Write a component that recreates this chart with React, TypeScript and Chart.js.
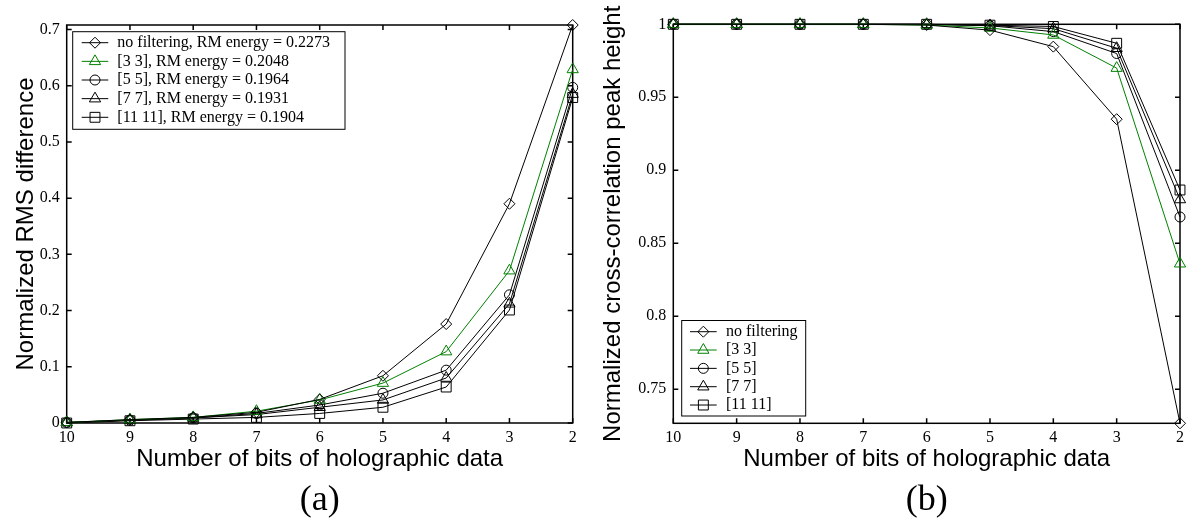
import React, { useEffect, useRef } from 'react';
import { Chart, registerables } from 'chart.js';

Chart.register(...registerables);

// ---------- data ----------
const BITS = [10, 9, 8, 7, 6, 5, 4, 3, 2];
const X_TICKS = [10, 9, 8, 7, 6, 5, 4, 3, 2];

const NAMES_A = [
  'no filtering, RM energy = 0.2273',
  '[3 3], RM energy = 0.2048',
  '[5 5], RM energy = 0.1964',
  '[7 7], RM energy = 0.1931',
  '[11 11], RM energy = 0.1904',
];
const NAMES_B = ['no filtering', '[3 3]', '[5 5]', '[7 7]', '[11 11]'];

const RMS_NONE = [0.001, 0.006, 0.010, 0.019, 0.042, 0.084, 0.176, 0.390, 0.708];
const RMS_33 = [0.001, 0.006, 0.010, 0.021, 0.041, 0.071, 0.127, 0.271, 0.629];
const RMS_55 = [0.001, 0.005, 0.009, 0.017, 0.032, 0.053, 0.094, 0.228, 0.597];
const RMS_77 = [0.001, 0.005, 0.009, 0.015, 0.028, 0.041, 0.080, 0.212, 0.585];
const RMS_1111 = [0.000, 0.004, 0.007, 0.010, 0.017, 0.028, 0.064, 0.201, 0.579];

const CC_NONE = [1.0, 1.0, 1.0, 1.0, 0.9995, 0.996, 0.9847, 0.935, 0.7267];
const CC_33 = [1.0, 1.0, 1.0, 1.0, 0.9995, 0.9975, 0.9927, 0.970, 0.836];
const CC_55 = [1.0, 1.0, 1.0, 1.0, 1.0, 0.999, 0.995, 0.980, 0.868];
const CC_77 = [1.0, 1.0, 1.0, 1.0, 1.0, 0.9992, 0.997, 0.9836, 0.880];
const CC_1111 = [1.0, 1.0, 1.0, 1.0, 1.0, 0.9994, 0.9985, 0.987, 0.8865];

const Y_TICKS_A = [0, 0.1, 0.2, 0.3, 0.4, 0.5, 0.6, 0.7];
const Y_TICKS_B = [0.75, 0.8, 0.85, 0.9, 0.95, 1];

// ---------- styles ----------
const COLORS = ['#000000', '#008000', '#000000', '#000000', '#000000'];
const SHAPES = ['rectRot', 'triangle', 'circle', 'triangle', 'rect'];
const RADII = [5.5, 6.5, 5, 6.5, 7];
const SERIF = '"Liberation Serif", "Times New Roman", serif';
const SANS = '"Liberation Sans", Arial, sans-serif';

function drawMarker(ctx: CanvasRenderingContext2D, shape: string, x: number, y: number, r: number) {
  ctx.beginPath();
  if (shape === 'circle') {
    ctx.arc(x, y, r, 0, Math.PI * 2);
  } else if (shape === 'rect') {
    const s = Math.SQRT1_2 * r;
    ctx.rect(x - s, y - s, 2 * s, 2 * s);
  } else if (shape === 'rectRot') {
    ctx.moveTo(x, y - r);
    ctx.lineTo(x + r, y);
    ctx.lineTo(x, y + r);
    ctx.lineTo(x - r, y);
    ctx.closePath();
  } else if (shape === 'triangle') {
    let a = 0;
    ctx.moveTo(x + Math.sin(a) * r, y - Math.cos(a) * r);
    a += (2 * Math.PI) / 3;
    ctx.lineTo(x + Math.sin(a) * r, y - Math.cos(a) * r);
    a += (2 * Math.PI) / 3;
    ctx.lineTo(x + Math.sin(a) * r, y - Math.cos(a) * r);
    ctx.closePath();
  }
  ctx.stroke();
}

interface PanelSpec {
  names: string[];
  values: number[][];
  yMin: number;
  yMax: number;
  yTicks: number[];
  yTitle: string;
  yTitlePad: number;
  letter: string;
  width: number;
  height: number;
  plotLeft: number;
  plotRight: number;
  plotTop: number;
  plotBottom: number;
  legend: { x0: number; y0: number; x1: number; y1: number; row0: number; dy: number; l0: number; l1: number; tx: number };
}

function buildChart(canvas: HTMLCanvasElement, p: PanelSpec) {
  const framePlugin = {
    id: 'frameTicks',
    beforeDatasetsDraw(chart: any) {
      const { ctx, chartArea } = chart;
      const { left, right, top, bottom } = chartArea;
      const xs = chart.scales.x;
      const ys = chart.scales.y;
      ctx.save();
      ctx.strokeStyle = '#000';
      ctx.lineWidth = 1.5;
      ctx.strokeRect(left, top, right - left, bottom - top);
      ctx.beginPath();
      for (const v of X_TICKS) {
        const px = xs.getPixelForValue(v);
        ctx.moveTo(px, bottom);
        ctx.lineTo(px, bottom - 5);
        ctx.moveTo(px, top);
        ctx.lineTo(px, top + 5);
      }
      for (const v of p.yTicks) {
        const py = ys.getPixelForValue(v);
        ctx.moveTo(left, py);
        ctx.lineTo(left + 5, py);
        ctx.moveTo(right, py);
        ctx.lineTo(right - 5, py);
      }
      ctx.stroke();
      ctx.restore();
    },
    afterDraw(chart: any) {
      const { ctx, chartArea } = chart;
      const L = p.legend;
      ctx.save();
      ctx.fillStyle = '#fff';
      ctx.fillRect(L.x0, L.y0, L.x1 - L.x0, L.y1 - L.y0);
      ctx.strokeStyle = '#000';
      ctx.lineWidth = 1;
      ctx.strokeRect(L.x0, L.y0, L.x1 - L.x0, L.y1 - L.y0);
      ctx.font = `16px ${SERIF}`;
      ctx.textBaseline = 'middle';
      ctx.textAlign = 'left';
      p.names.forEach((name, i) => {
        const y = L.row0 + i * L.dy;
        ctx.strokeStyle = COLORS[i];
        ctx.lineWidth = 1;
        ctx.beginPath();
        ctx.moveTo(L.l0, y);
        ctx.lineTo(L.l1, y);
        ctx.stroke();
        drawMarker(ctx, SHAPES[i], (L.l0 + L.l1) / 2, y, RADII[i]);
        ctx.fillStyle = '#000';
        ctx.fillText(name, L.tx, y);
      });
      ctx.font = `36px ${SERIF}`;
      ctx.textAlign = 'center';
      ctx.textBaseline = 'middle';
      ctx.fillStyle = '#000';
      ctx.fillText(p.letter, (chartArea.left + chartArea.right) / 2, 501);
      ctx.restore();
    },
  };

  const datasets = p.values.map((vals, i) => ({
    label: p.names[i],
    data: BITS.map((b, j) => ({ x: b, y: vals[j] })),
    borderColor: COLORS[i],
    backgroundColor: 'rgba(0,0,0,0)',
    borderWidth: 1,
    pointStyle: SHAPES[i],
    pointRadius: RADII[i],
    pointBorderWidth: 1,
    pointBorderColor: COLORS[i],
    pointBackgroundColor: 'rgba(0,0,0,0)',
    tension: 0,
    clip: false as any,
    fill: false,
  }));

  return new Chart(canvas, {
    type: 'line',
    data: { datasets },
    plugins: [framePlugin],
    options: {
      responsive: false,
      animation: false,
      events: [],
      layout: {
        padding: { left: 0, top: p.plotTop, right: p.width - p.plotRight, bottom: 0 },
      },
      plugins: { legend: { display: false }, tooltip: { enabled: false }, title: { display: false } },
      scales: {
        x: {
          type: 'linear',
          reverse: true,
          min: 2,
          max: 10,
          afterBuildTicks: (s: any) => {
            s.ticks = X_TICKS.map((v) => ({ value: v }));
          },
          afterFit: (s: any) => {
            s.height = p.height - p.plotBottom;
          },
          grid: { display: false, drawTicks: false, tickLength: 0 },
          border: { display: false },
          ticks: {
            font: { family: SERIF, size: 16 },
            color: '#000',
            padding: 5,
            maxRotation: 0,
            autoSkip: false,
            callback: (v: any) => String(v),
          },
          title: {
            display: true,
            text: 'Number of bits of holographic data',
            font: { family: SANS, size: 24 },
            color: '#000',
            padding: { top: 0, bottom: 53 },
          },
        },
        y: {
          type: 'linear',
          min: p.yMin,
          max: p.yMax,
          afterBuildTicks: (s: any) => {
            s.ticks = p.yTicks.map((v) => ({ value: v }));
          },
          afterFit: (s: any) => {
            s.width = p.plotLeft;
          },
          grid: { display: false, drawTicks: false, tickLength: 0 },
          border: { display: false },
          ticks: {
            font: { family: SERIF, size: 16 },
            color: '#000',
            padding: 7,
            autoSkip: false,
            callback: (v: any) => String(+Number(v).toFixed(2)),
          },
          title: {
            display: true,
            text: p.yTitle,
            font: { family: SANS, size: 24 },
            color: '#000',
            padding: { top: p.yTitlePad, bottom: 0 },
          },
        },
      },
    } as any,
  });
}

const PANEL_A: PanelSpec = {
  names: NAMES_A,
  values: [RMS_NONE, RMS_33, RMS_55, RMS_77, RMS_1111],
  yMin: 0,
  yMax: 0.708,
  yTicks: Y_TICKS_A,
  yTitle: 'Normalized RMS difference',
  yTitlePad: 12,
  letter: '(a)',
  width: 594,
  height: 527,
  plotLeft: 66.7,
  plotRight: 572.7,
  plotTop: 25,
  plotBottom: 423,
  legend: { x0: 72.7, y0: 31.7, x1: 345, y1: 129.3, row0: 42.7, dy: 18.65, l0: 81.7, l1: 108.3, tx: 117.3 },
};

const PANEL_B: PanelSpec = {
  names: NAMES_B,
  values: [CC_NONE, CC_33, CC_55, CC_77, CC_1111],
  yMin: 0.7267,
  yMax: 1.0,
  yTicks: Y_TICKS_B,
  yTitle: 'Normalized cross-correlation peak height',
  yTitlePad: 5,
  letter: '(b)',
  width: 595,
  height: 527,
  plotLeft: 79.3,
  plotRight: 587,
  plotTop: 24.3,
  plotBottom: 423.3,
  legend: { x0: 87.7, y0: 320.5, x1: 211.7, y1: 416, row0: 331.7, dy: 18.33, l0: 96, l1: 122.7, tx: 132 },
};

function Panel({ spec, left }: { spec: PanelSpec; left: number }) {
  const ref = useRef<HTMLCanvasElement | null>(null);
  useEffect(() => {
    if (!ref.current) return;
    const chart = buildChart(ref.current, spec);
    return () => chart.destroy();
  }, [spec]);
  return (
    <canvas
      ref={ref}
      width={spec.width}
      height={spec.height}
      style={{ position: 'absolute', left, top: 0, width: spec.width, height: spec.height, display: 'block' }}
    />
  );
}

export default function App() {
  return (
    <div style={{ position: 'absolute', left: 0, top: 0, width: 1189, height: 527, background: '#fff', overflow: 'hidden' }}>
      <Panel spec={PANEL_A} left={0} />
      <Panel spec={PANEL_B} left={594} />
    </div>
  );
}
